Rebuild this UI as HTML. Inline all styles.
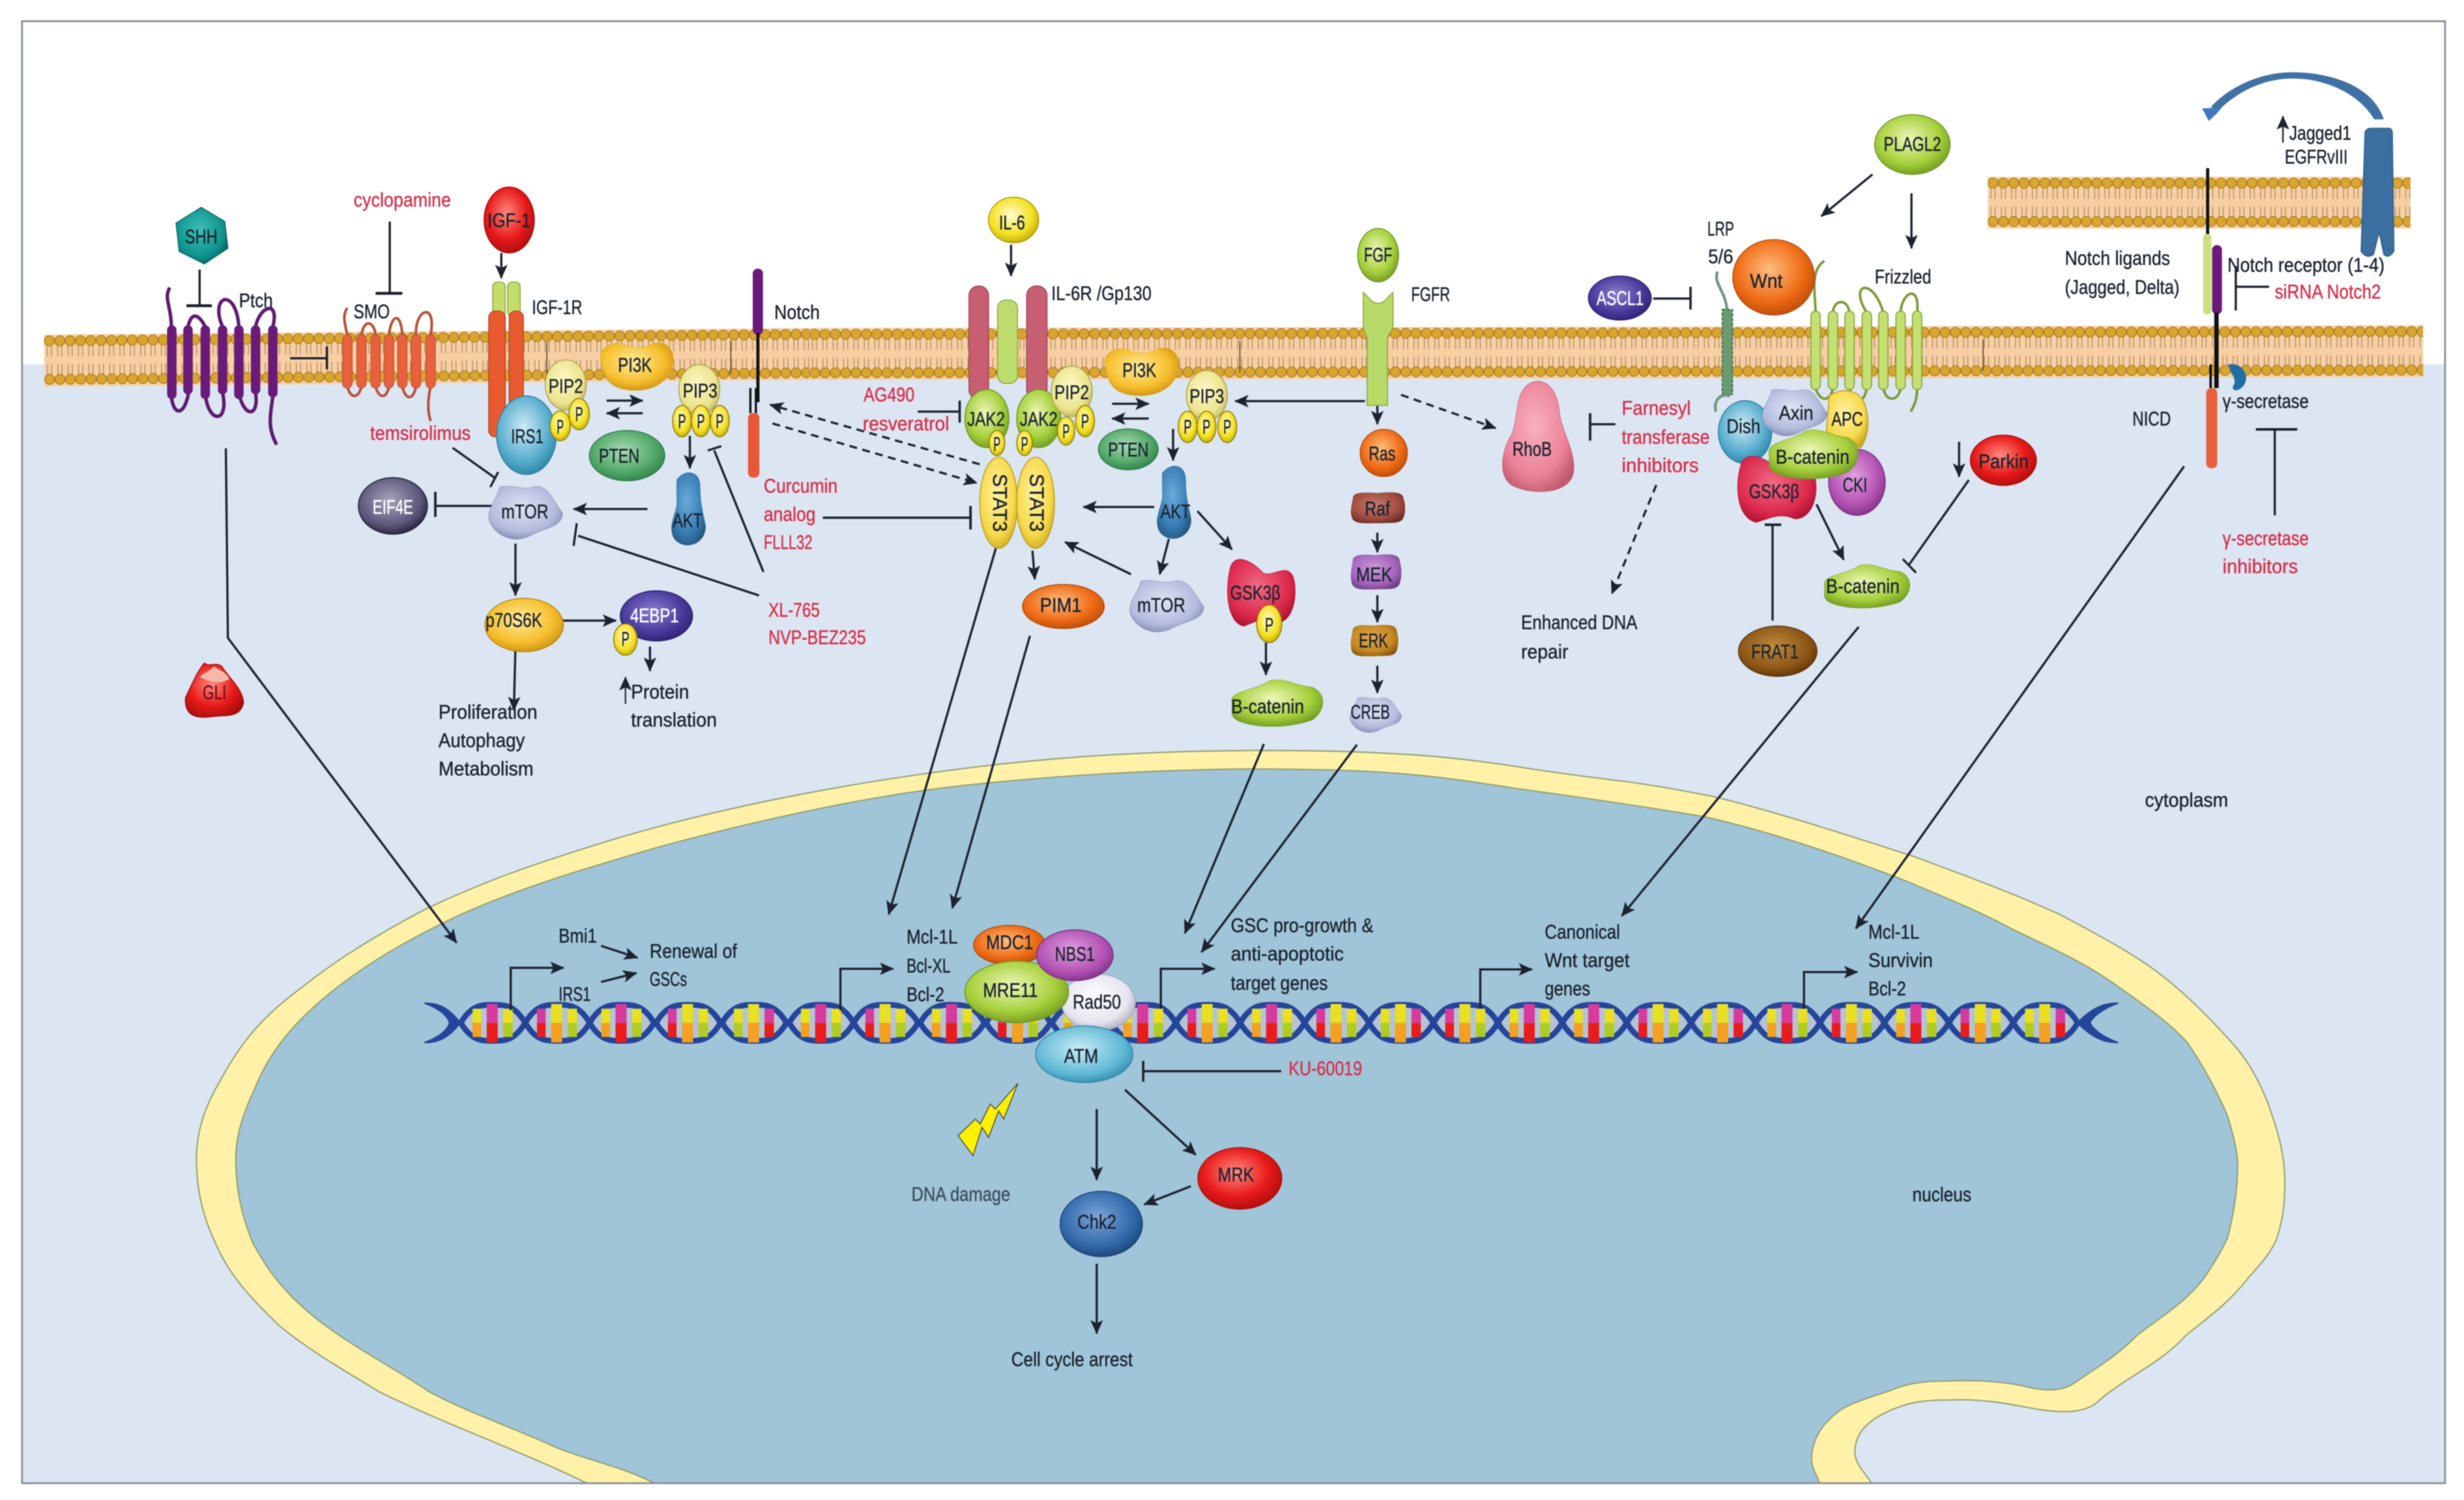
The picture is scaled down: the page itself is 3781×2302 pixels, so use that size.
<!DOCTYPE html>
<html><head><meta charset="utf-8"><style>
html,body{margin:0;padding:0;background:#fff}
svg{display:block;filter:blur(.9px)}
text{font-family:"Liberation Sans Narrow","Liberation Sans",sans-serif;font-size:12.5px;fill:#1b2330;stroke:#1b2330;stroke-width:.18}
.r{fill:#d6304a;stroke:#d6304a}
.w{fill:#fff;stroke:#fff}
.l line,.l path,.l polyline{stroke:#1c2230;stroke-width:1.4;fill:none}
.d line{stroke:#1c2230;stroke-width:1.4;stroke-dasharray:5 3.5;fill:none}
.n ellipse,.n use,.n path,.n rect{stroke-width:.6}
.c{text-anchor:middle}
</style></head><body>
<svg xmlns="http://www.w3.org/2000/svg" width="3781" height="2302" viewBox="0 0 1568 954.7">
<defs>
<marker id="a" markerUnits="userSpaceOnUse" markerWidth="10" markerHeight="9" refX="8.5" refY="4" orient="auto"><path d="M0,0 L9,4 L0,8 L2,4Z" fill="#1c2230"/></marker>
<radialGradient id="gRed" cx=".45" cy=".4" r=".65"><stop offset="0" stop-color="#ff8a80"/><stop offset=".6" stop-color="#e81a1a"/><stop offset="1" stop-color="#a80d0d"/></radialGradient>
<radialGradient id="gYel" cx=".45" cy=".4" r=".65"><stop offset="0" stop-color="#fffbd0"/><stop offset=".65" stop-color="#f3e01f"/><stop offset="1" stop-color="#b8a20c"/></radialGradient>
<radialGradient id="gGrn" cx=".45" cy=".4" r=".65"><stop offset="0" stop-color="#eef7b8"/><stop offset=".65" stop-color="#a5cf3a"/><stop offset="1" stop-color="#6d9420"/></radialGradient>
<radialGradient id="gOra" cx=".45" cy=".4" r=".65"><stop offset="0" stop-color="#ffbe80"/><stop offset=".65" stop-color="#ee6a14"/><stop offset="1" stop-color="#b5490a"/></radialGradient>
<radialGradient id="gBlu" cx=".45" cy=".4" r=".65"><stop offset="0" stop-color="#cfeaf5"/><stop offset=".65" stop-color="#58aecf"/><stop offset="1" stop-color="#2a7fa0"/></radialGradient>
<radialGradient id="gGre" cx=".45" cy=".4" r=".65"><stop offset="0" stop-color="#a8dab4"/><stop offset=".65" stop-color="#52a868"/><stop offset="1" stop-color="#2e7d48"/></radialGradient>
<radialGradient id="gPur" cx=".45" cy=".4" r=".65"><stop offset="0" stop-color="#a8a4bc"/><stop offset=".7" stop-color="#5a5478"/><stop offset="1" stop-color="#1e1b30"/></radialGradient>
<radialGradient id="gInd" cx=".45" cy=".4" r=".65"><stop offset="0" stop-color="#8a7cd0"/><stop offset=".65" stop-color="#483a9a"/><stop offset="1" stop-color="#2a2070"/></radialGradient>
<radialGradient id="gSal" cx=".45" cy=".4" r=".65"><stop offset="0" stop-color="#ffeb9c"/><stop offset=".65" stop-color="#f6be2c"/><stop offset="1" stop-color="#c98d10"/></radialGradient>
<radialGradient id="gCre" cx=".45" cy=".4" r=".65"><stop offset="0" stop-color="#fdf8c8"/><stop offset=".7" stop-color="#ece48e"/><stop offset="1" stop-color="#bdb560"/></radialGradient>
<radialGradient id="gLil" cx=".45" cy=".4" r=".65"><stop offset="0" stop-color="#dfe3f2"/><stop offset=".7" stop-color="#b3bbdc"/><stop offset="1" stop-color="#7f88ae"/></radialGradient>
<radialGradient id="gAkt" cx=".45" cy=".4" r=".65"><stop offset="0" stop-color="#6aaad8"/><stop offset=".65" stop-color="#3a7fb8"/><stop offset="1" stop-color="#24587f"/></radialGradient>
<radialGradient id="gPnk" cx=".45" cy=".4" r=".65"><stop offset="0" stop-color="#f8b0c0"/><stop offset=".7" stop-color="#ec8298"/><stop offset="1" stop-color="#c05a70"/></radialGradient>
<radialGradient id="gGsk" cx=".45" cy=".4" r=".65"><stop offset="0" stop-color="#f06a84"/><stop offset=".7" stop-color="#dc2a4c"/><stop offset="1" stop-color="#a81030"/></radialGradient>
<radialGradient id="gBrn" cx=".45" cy=".4" r=".65"><stop offset="0" stop-color="#c08a40"/><stop offset=".7" stop-color="#8a5414"/><stop offset="1" stop-color="#5a3208"/></radialGradient>
<radialGradient id="gMag" cx=".45" cy=".4" r=".65"><stop offset="0" stop-color="#e0a0e0"/><stop offset=".7" stop-color="#b04fb0"/><stop offset="1" stop-color="#7a2f80"/></radialGradient>
<radialGradient id="gRaf" cx=".45" cy=".4" r=".65"><stop offset="0" stop-color="#c07a6e"/><stop offset=".7" stop-color="#a04a3d"/><stop offset="1" stop-color="#6a2f28"/></radialGradient>
<radialGradient id="gMek" cx=".45" cy=".4" r=".65"><stop offset="0" stop-color="#c99bd8"/><stop offset=".7" stop-color="#a464bc"/><stop offset="1" stop-color="#70408a"/></radialGradient>
<radialGradient id="gErk" cx=".45" cy=".4" r=".65"><stop offset="0" stop-color="#e2a850"/><stop offset=".7" stop-color="#c4861e"/><stop offset="1" stop-color="#8a5c12"/></radialGradient>
<radialGradient id="gTeal" cx=".45" cy=".4" r=".65"><stop offset="0" stop-color="#3ec0b8"/><stop offset=".7" stop-color="#0e948e"/><stop offset="1" stop-color="#08605c"/></radialGradient>
<radialGradient id="gChk" cx=".45" cy=".4" r=".65"><stop offset="0" stop-color="#7aa4d8"/><stop offset=".7" stop-color="#2f66a8"/><stop offset="1" stop-color="#1a3f70"/></radialGradient>
<radialGradient id="gAtm" cx=".45" cy=".4" r=".65"><stop offset="0" stop-color="#c8ecf6"/><stop offset=".7" stop-color="#5fb8d4"/><stop offset="1" stop-color="#2f87a8"/></radialGradient>
<radialGradient id="gRad" cx=".45" cy=".4" r=".65"><stop offset="0" stop-color="#ffffff"/><stop offset=".7" stop-color="#e6e4ee"/><stop offset="1" stop-color="#a8a6b8"/></radialGradient>
<radialGradient id="gSt3" cx=".45" cy=".4" r=".65"><stop offset="0" stop-color="#fff2a0"/><stop offset=".7" stop-color="#f7d94a"/><stop offset="1" stop-color="#c9a820"/></radialGradient>

<pattern id="mem" patternUnits="userSpaceOnUse" width="6.6" height="33">
<rect width="6.6" height="33" fill="#f8cfa2"/>
<path d="M2,7 V14 M4.6,7 V14 M2,19 V26 M4.6,19 V26" stroke="#a88a68" stroke-width=".55" fill="none"/>
<circle cx="3.3" cy="4" r="3.2" fill="#d9a52e" stroke="#a0761a" stroke-width=".5"/>
<circle cx="3.3" cy="28.5" r="3.2" fill="#d9a52e" stroke="#a0761a" stroke-width=".5"/>
</pattern>

<path id="b1" d="M5,40 C0,15 20,0 35,8 C50,18 60,15 75,5 C95,0 105,30 95,60 C85,95 50,105 25,90 C10,80 8,60 5,40Z"/>
<path id="b2" d="M15,5 C35,0 45,12 60,5 C80,0 85,25 100,50 C100,75 75,75 55,90 C30,105 5,85 0,60 C0,35 10,30 15,5Z"/>
<path id="b3" d="M5,50 C2,25 25,28 45,5 C60,-3 70,15 90,18 C105,30 105,65 90,85 C60,105 25,100 10,85 C2,75 6,65 5,50Z"/>
<path id="b4" d="M20,10 C40,-5 85,-5 85,20 C85,45 95,60 100,75 C100,105 30,110 10,90 C-5,70 25,55 20,35Z"/>
<path id="b5" d="M5,15 C15,-5 40,10 55,25 C70,30 90,10 100,30 C108,55 100,95 75,95 C55,85 40,95 25,100 C0,95 -5,50 5,15Z"/>
<path id="b6" d="M35,5 C50,-5 75,0 80,25 C82,45 100,60 100,80 C100,105 40,105 15,95 C-5,85 5,60 15,50 C25,35 20,15 35,5Z"/>
<path id="b7" d="M6,20 C6,2 30,4 50,6 C75,2 96,2 96,22 C100,40 100,65 96,80 C92,100 70,94 50,96 C30,96 8,100 4,80 C0,60 4,40 6,20Z"/>

<g id="s"><path d="M-20.5,0 C-14,-11 -8,-11.5 0,-11.5 C8,-11.5 14,-11 20.5,0 C14,11 8,11.5 0,11.5 C-8,11.5 -14,11 -20.5,0Z" fill="#b4c4d4" stroke="#24459a" stroke-width="3.6"/></g>
<g id="u1"><use href="#s"/><rect x="-13" y="-9" width="5.5" height="9" fill="#e8e020"/><rect x="-13" y="0" width="5.5" height="9" fill="#f4a020"/><rect x="-4" y="-12" width="7" height="12" fill="#d83a9c"/><rect x="-4" y="0" width="7" height="12.5" fill="#e81c1c"/><rect x="6.5" y="-9" width="6" height="9" fill="#e8e020"/><rect x="6.5" y="0" width="6" height="9" fill="#b0cc20"/></g>
<g id="u2"><use href="#s"/><rect x="-13" y="-9" width="5.5" height="9" fill="#d83a9c"/><rect x="-13" y="0" width="5.5" height="9" fill="#e81c1c"/><rect x="-4" y="-12" width="7" height="12" fill="#e8e020"/><rect x="-4" y="0" width="7" height="12.5" fill="#f4a020"/><rect x="6.5" y="-9" width="6" height="9" fill="#e8e020"/><rect x="6.5" y="0" width="6" height="9" fill="#b0cc20"/></g>
<g id="u3"><use href="#s"/><rect x="-13" y="-9" width="5.5" height="9" fill="#e8e020"/><rect x="-13" y="0" width="5.5" height="9" fill="#b0cc20"/><rect x="-4" y="-12" width="7" height="12" fill="#e8e020"/><rect x="-4" y="0" width="7" height="12.5" fill="#f4a020"/><rect x="6.5" y="-9" width="6" height="9" fill="#d83a9c"/><rect x="6.5" y="0" width="6" height="9" fill="#e81c1c"/></g>
</defs>

<rect width="1568" height="955" fill="#fff"/>
<rect x="14" y="232" width="1542" height="712" fill="#dce6f2"/>

<!-- membranes -->
<g transform="translate(28,213) rotate(-.5)"><rect width="490" height="33" fill="url(#mem)"/></g>
<g transform="translate(515,208.8) rotate(-.1)"><rect width="1027" height="33" fill="url(#mem)"/></g>
<g transform="translate(1265,112.5)"><rect width="269" height="33" fill="url(#mem)"/></g>
<path d="M348,218V240 M465,217V238 M789,217V237 M1262,216V236" stroke="#5a4a30" stroke-width=".7"/>

<!-- nucleus -->
<path fill="#fff2a8" stroke="#8f9a6e" stroke-width=".8" d="M373.4,944 C335,925 280,905 241.7,886 C215,870 195,858 178,844 C158,825 145,810 137,791 C128,772 125,755 125,738 C125,720 130,705 140,688 C155,660 170,645 190,630 C215,610 240,595 270,579 C310,560 340,550 375,539 C450,515 540,498 622,488 C680,481 740,478 794,477.7 C830,477.5 860,478 886.5,479.7 C915,481 940,484 966,488 C990,492 1015,495 1036.7,497.7 C1060,501 1075,504 1090.6,507 C1135,518 1180,533 1217.6,545 C1250,557 1285,570 1312.8,583 C1335,595 1358,607 1376,621 C1395,636 1410,652 1424,667.8 C1434,680 1441,695 1446,710 C1451,725 1454,738 1454,752 C1454,770 1452,778 1449,788 C1445,798 1438,805 1431,813 C1418,830 1403,840 1391,850 C1375,868 1350,878 1334,893 C1325,900 1310,899 1297,897 C1285,895 1265,890 1241,891 C1228,891 1218,892 1210,895 C1195,900 1183,908 1181,919 C1178,930 1186,936 1191,944Z"/>
<path fill="#a0c5d9" stroke="#8f9a6e" stroke-width=".8" d="M416.3,944 C395,933 375,930 352.8,920.8 C325,908 300,900 273.4,886 C250,870 225,858 200.4,838.6 C180,822 170,808 160.8,791 C153,772 150,755 150,738 C150,722 155,708 162,693 C172,668 188,650 210,632 C235,612 260,598 289,584 C330,565 375,552 419.5,539 C490,520 560,505 622,499 C680,493 740,490 794,489.4 C830,489.4 860,490 886.5,492 C915,494 940,498 966,502 C1010,508 1050,514 1084,519.7 C1130,530 1175,546 1211,560 C1235,570 1260,580 1281,591.6 C1305,603 1325,612 1344.5,625.5 C1362,638 1380,650 1392,663.6 C1402,678 1411,695 1417.5,710 C1421,722 1424,732 1424,742 C1424,758 1421,775 1417.5,788 C1413,798 1408,805 1403,813 C1390,830 1375,838 1360,850 C1345,865 1330,873 1319,881 C1310,886 1300,885 1291,883 C1280,880 1260,878 1241,879 C1225,879 1215,880 1203,885 C1188,890 1178,893 1172,897 C1162,904 1155,912 1153,925 C1152,934 1156,938 1158,944Z"/>
<rect x="14" y="13.5" width="1542" height="930.5" fill="none" stroke="#8a929c" stroke-width="1.2"/>

<!-- DNA -->
<g transform="translate(0,651)">
<path d="M270,-12.5 C282,-13 288,-6 293,0 C288,6 282,13 270,12.5 C280,9 285,4 286,0 C285,-4 280,-9 270,-12.5Z" fill="#24459a" stroke="#24459a" stroke-width=".8"/>
<use href="#u1" x="313.7"/><use href="#u2" x="354.7"/><use href="#u1" x="395.7"/><use href="#u2" x="438"/><use href="#u3" x="480"/><use href="#u1" x="522.7"/><use href="#u2" x="563.7"/><use href="#u1" x="606"/><use href="#u2" x="648"/><use href="#u1" x="690"/><use href="#u1" x="727.7"/><use href="#u2" x="768.7"/><use href="#u1" x="809.7"/><use href="#u2" x="850.7"/><use href="#u3" x="891.7"/><use href="#u2" x="932.7"/><use href="#u1" x="973.7"/><use href="#u1" x="1014.7"/><use href="#u2" x="1055.7"/><use href="#u3" x="1096.7"/><use href="#u1" x="1137.7"/><use href="#u2" x="1178.7"/><use href="#u1" x="1219.7"/><use href="#u2" x="1260.7"/><use href="#u3" x="1301.7"/>
<path d="M1348,-12.5 C1336,-13 1328,-6 1322,0 C1328,6 1336,13 1348,12.5 C1338,9 1332,4 1330,0 C1332,-4 1338,-9 1348,-12.5Z" fill="#24459a" stroke="#24459a" stroke-width=".8"/>
</g>

<!-- Ptch -->
<g fill="none" stroke="#5f1a6e" stroke-width="2.2">
<path d="M109,208 C109,195 104,190 108,183"/>
<path d="M109,252 C110,264 117,266 120,250"/>
<path d="M119.6,208 C122,197 127,201 130.6,208"/>
<path d="M130.6,250 C132,270 146,270 141.6,250"/>
<path d="M141.6,208 C133,188 150,182 152,208"/>
<path d="M152,250 C155,266 165,266 162.6,250"/>
<path d="M162.6,208 C165,195 178,190 173.6,208"/>
<path d="M173.6,252 C172,265 170,272 176,283"/>
</g>
<g fill="#6a1b7a"><rect x="106.3" y="207" width="6" height="47" rx="3"/><rect x="116.6" y="207" width="6" height="44" rx="3"/><rect x="127.6" y="207" width="6" height="47" rx="3"/><rect x="138.6" y="207" width="6" height="44" rx="3"/><rect x="149" y="207" width="6" height="47" rx="3"/><rect x="159.6" y="207" width="6" height="44" rx="3"/><rect x="170.6" y="207" width="6" height="46" rx="3"/></g>

<!-- SMO -->
<g fill="none" stroke="#b8513a" stroke-width="1.7">
<path d="M221,213 C219,205 218,200 221,196"/>
<path d="M221,246 C223,254 228,254 230,246"/>
<path d="M230,213 C232,202 238,205 239,213"/>
<path d="M239,246 C241,254 246,254 247.5,246"/>
<path d="M247.5,213 C249,200 255,198 256,213"/>
<path d="M256,246 C258,255 263,255 264.7,246"/>
<path d="M264.7,213 C264,196 278,192 274,213"/>
<path d="M274,246 C272,255 272,262 274,268"/>
</g>
<g fill="#e8603c" stroke="#b8513a" stroke-width=".5"><rect x="218" y="213" width="6" height="34" rx="3"/><rect x="227" y="213" width="6" height="34" rx="3"/><rect x="236" y="213" width="6" height="34" rx="3"/><rect x="244.5" y="213" width="6" height="34" rx="3"/><rect x="253" y="213" width="6" height="34" rx="3"/><rect x="261.7" y="213" width="6" height="34" rx="3"/><rect x="271" y="213" width="6" height="34" rx="3"/></g>

<!-- Frizzled -->
<g fill="none" stroke="#7a9a3a" stroke-width="1.6">
<path d="M1155.4,199 C1155,185 1152,172 1161,166"/>
<path d="M1155.4,247 C1158,256 1165,256 1166.4,247"/>
<path d="M1166.4,199 C1167,190 1176,190 1177,199"/>
<path d="M1177,247 C1179,258 1186,258 1188,247"/>
<path d="M1188,199 C1176,180 1192,176 1198.5,199"/>
<path d="M1198.5,247 C1200,256 1208,256 1209.5,247"/>
<path d="M1209.5,199 C1210,186 1222,180 1220,199"/>
<path d="M1220,247 C1220,255 1218,258 1216,262"/>
</g>
<g fill="#c5e070" stroke="#7a9a3a" stroke-width=".6"><rect x="1152.4" y="198" width="6" height="50" rx="3"/><rect x="1163.4" y="198" width="6" height="50" rx="3"/><rect x="1174" y="198" width="6" height="50" rx="3"/><rect x="1185" y="198" width="6" height="50" rx="3"/><rect x="1195.5" y="198" width="6" height="50" rx="3"/><rect x="1206.5" y="198" width="6" height="50" rx="3"/><rect x="1217" y="198" width="6" height="50" rx="3"/></g>

<!-- LRP -->
<path d="M1093,173 C1090,180 1098,185 1099,197" fill="none" stroke="#6a9a80" stroke-width="1.8"/>
<rect x="1096" y="197" width="6.5" height="54" fill="#6a9a70" stroke="#3f6a50" stroke-width=".8" stroke-dasharray="2 1"/>
<path d="M1101,252 C1095,250 1090,255 1092,262" fill="none" stroke="#6a9a80" stroke-width="1.8"/>

<!-- receptors -->
<g class="n">
<rect x="313.5" y="179.5" width="8" height="22" rx="3" fill="#c4dc6a" stroke="#8aa040"/>
<rect x="323" y="179.5" width="8" height="22" rx="3" fill="#c4dc6a" stroke="#8aa040"/>
<rect x="311" y="198" width="10.5" height="80" rx="4" fill="#ea5a30" stroke="#b0401c"/>
<rect x="324" y="198" width="9" height="80" rx="4" fill="#ea5a30" stroke="#b0401c"/>
<rect x="616.6" y="182" width="12.5" height="72" rx="6" fill="#c75e72" stroke="#9a4556"/>
<rect x="653.3" y="182" width="13" height="72" rx="6" fill="#c75e72" stroke="#9a4556"/>
<rect x="634.8" y="191" width="12.7" height="53" rx="5" fill="#bedc6e" stroke="#8aa040"/>
<path d="M867.5,186 C872,190 873,193 877,193 C881,193 882,190 886.5,186 V206 C886.5,212 883,212 883,216 V258 H870 V216 C870,212 867.5,212 867.5,206Z" fill="#b6d968" stroke="#8aa040"/>
</g>

<!-- left notch -->
<rect x="479" y="171" width="6.5" height="42" rx="3" fill="#6a1b7a"/>
<path d="M482.3,212V256" stroke="#111" stroke-width="2"/>
<path d="M477.5,247V263 M481,247V263" stroke="#111" stroke-width="1.4"/>
<rect x="476" y="263" width="7.2" height="41" rx="3" fill="#e8563a"/>

<!-- right notch -->
<path d="M1404.9,107V149" stroke="#111" stroke-width="2"/>
<rect x="1402" y="149" width="5.2" height="51" rx="2" fill="#c9e07c"/>
<rect x="1407.7" y="156" width="6.3" height="44" rx="3" fill="#6a1b7a"/>
<path d="M1410.5,199V247" stroke="#111" stroke-width="2.8"/>
<path d="M1406.8,232V247" stroke="#111" stroke-width="1.6"/>
<rect x="1404" y="247" width="7" height="51" rx="3" fill="#e8603c"/>
<path d="M1418,232 C1425,230 1431,237 1429,243 C1427,249 1420,250 1421,246 C1424,242 1420,238 1418,232Z" fill="#1f6ea8"/>

<!-- EGFR -->
<path d="M1505,84 Q1506,81.6 1509,81.6 H1520 Q1522.5,81.6 1522.5,85 L1523.5,160 Q1520,165 1517,162 L1514,148 L1510.5,162 Q1506,165 1502.5,160Z" fill="#3a6f9f" stroke="#2a5580" stroke-width=".5"/>
<path d="M1517,76 C1510,54 1482,46 1459,46 C1440,46 1420,54 1407,68 L1411,71 C1425,57 1442,50 1459,50 C1478,50 1500,58 1511,76Z" fill="#3f71a5"/>
<path d="M1401.4,69 L1414,68.5 L1410,73 L1405.6,77Z" fill="#3f78c0"/>

<!-- connectors -->
<g class="l">
<line x1="127" y1="171.6" x2="127" y2="194.6"/><line x1="118.6" y1="194.6" x2="134.8" y2="194.6" style="stroke-width:1.8"/>
<line x1="248" y1="141" x2="248" y2="186.7"/><line x1="239" y1="186.7" x2="256" y2="186.7" style="stroke-width:1.8"/>
<line x1="184.6" y1="228" x2="208" y2="228"/><line x1="208" y1="220.5" x2="208" y2="235" style="stroke-width:1.5"/>
<line x1="319" y1="161" x2="319" y2="177" marker-end="url(#a)"/>
<polyline points="143.7,285.3 145,406 290.5,600" marker-end="url(#a)"/>
<line x1="386" y1="255" x2="409" y2="255" marker-end="url(#a)"/>
<line x1="409" y1="263" x2="386" y2="263" marker-end="url(#a)"/>
<line x1="439" y1="277.4" x2="439" y2="298" marker-end="url(#a)"/>
<line x1="412" y1="324" x2="365" y2="324" marker-end="url(#a)"/>
<line x1="315" y1="322" x2="277" y2="322"/><line x1="277" y1="313" x2="277" y2="329" style="stroke-width:1.6"/>
<line x1="288" y1="285" x2="315.6" y2="304.6"/><line x1="312" y1="310" x2="317" y2="300.4"/>
<line x1="485.8" y1="364" x2="454.5" y2="286.7"/><line x1="450.4" y1="286.7" x2="459" y2="284"/>
<line x1="483" y1="379" x2="367.9" y2="341"/><line x1="365" y1="347.5" x2="367" y2="333"/>
<line x1="328" y1="346" x2="328" y2="379" marker-end="url(#a)"/>
<line x1="358" y1="395" x2="392" y2="395" marker-end="url(#a)"/>
<line x1="413.6" y1="411.5" x2="413.6" y2="427" marker-end="url(#a)"/>
<line x1="398" y1="448" x2="398" y2="431" marker-end="url(#a)" style="stroke-width:.9"/>
<line x1="328" y1="411" x2="327" y2="452" marker-end="url(#a)"/>
<line x1="523.6" y1="329.5" x2="617.6" y2="329.5"/><line x1="617.6" y1="322" x2="617.6" y2="337" style="stroke-width:1.6"/>
<line x1="643.4" y1="155.8" x2="643.4" y2="175.6" marker-end="url(#a)"/>
<line x1="584" y1="262" x2="610.7" y2="262"/><line x1="610.7" y1="255" x2="610.7" y2="269" style="stroke-width:1.5"/>
<line x1="707.7" y1="257" x2="731" y2="257" marker-end="url(#a)"/>
<line x1="731" y1="266.4" x2="707.7" y2="266.4" marker-end="url(#a)"/>
<line x1="868.6" y1="255.3" x2="786" y2="255.3" marker-end="url(#a)"/>
<line x1="746.5" y1="273" x2="746.5" y2="293" marker-end="url(#a)"/>
<line x1="734.5" y1="322.7" x2="689.4" y2="322.7" marker-end="url(#a)"/>
<line x1="719.7" y1="365.5" x2="677.7" y2="345" marker-end="url(#a)"/>
<line x1="743.8" y1="343" x2="738" y2="365.5" marker-end="url(#a)"/>
<line x1="762" y1="325.3" x2="784" y2="349.7" marker-end="url(#a)"/>
<line x1="657" y1="350.5" x2="658.5" y2="368.7" marker-end="url(#a)"/>
<line x1="805.6" y1="409" x2="805.6" y2="429.5" marker-end="url(#a)"/>
<line x1="633.7" y1="349" x2="565.5" y2="582" marker-end="url(#a)"/>
<line x1="655.4" y1="404.7" x2="606" y2="578" marker-end="url(#a)"/>
<line x1="804.3" y1="473.5" x2="754" y2="594" marker-end="url(#a)"/>
<line x1="863.5" y1="474" x2="764.6" y2="606" marker-end="url(#a)"/>
<line x1="876.5" y1="258.4" x2="876.5" y2="270" marker-end="url(#a)"/>
<line x1="876.5" y1="339" x2="876.5" y2="351.5" marker-end="url(#a)"/>
<line x1="876.5" y1="378.8" x2="876.5" y2="396" marker-end="url(#a)"/>
<line x1="876.5" y1="423.7" x2="876.5" y2="441" marker-end="url(#a)"/>
<line x1="1028" y1="270" x2="1011.9" y2="270"/><line x1="1011.9" y1="263" x2="1011.9" y2="280.4" style="stroke-width:1.6"/>
<line x1="1052" y1="190" x2="1075.8" y2="190"/><line x1="1075.8" y1="182.5" x2="1075.8" y2="197" style="stroke-width:1.5"/>
<line x1="1191.6" y1="111" x2="1159" y2="137.6" marker-end="url(#a)"/>
<line x1="1216.4" y1="123" x2="1216.4" y2="158" marker-end="url(#a)"/>
<line x1="1128" y1="395" x2="1128" y2="334"/><line x1="1123" y1="334" x2="1133.5" y2="334" style="stroke-width:1.6"/>
<line x1="1156" y1="321" x2="1173.3" y2="356.3" marker-end="url(#a)"/>
<line x1="1246.7" y1="281.2" x2="1246.7" y2="303.4" marker-end="url(#a)"/>
<line x1="1252.9" y1="305.5" x2="1214.6" y2="359.8"/><line x1="1210.9" y1="355.8" x2="1219.3" y2="364.5"/>
<line x1="1182.8" y1="399" x2="1032" y2="583" marker-end="url(#a)"/>
<line x1="1389.9" y1="296.8" x2="1181" y2="591" marker-end="url(#a)"/>
<line x1="1447.6" y1="273.3" x2="1447.6" y2="328"/><line x1="1435.6" y1="273.3" x2="1461.9" y2="273.3" style="stroke-width:1.6"/>
<line x1="1444" y1="182.5" x2="1422.8" y2="182.5"/><line x1="1422.8" y1="169.3" x2="1422.8" y2="197.6"/>
<line x1="1452.8" y1="90.8" x2="1452.8" y2="74" marker-end="url(#a)" style="stroke-width:1"/>
<line x1="382.5" y1="602" x2="405.7" y2="609.6" marker-end="url(#a)"/>
<line x1="382.5" y1="625" x2="405" y2="619.3" marker-end="url(#a)"/>
<polyline points="325,643 325,616 358.7,616" marker-end="url(#a)"/>
<polyline points="534.8,643 534.8,616.6 568.4,616.6" marker-end="url(#a)"/>
<polyline points="738.7,642 738.7,616.6 773,616.6" marker-end="url(#a)"/>
<polyline points="942,642 942,617 975,617" marker-end="url(#a)"/>
<polyline points="1148,642 1148,618.7 1182,618.7" marker-end="url(#a)"/>
<line x1="815.3" y1="681.8" x2="727.5" y2="681.8"/><line x1="727.5" y1="675.2" x2="727.5" y2="688.4" style="stroke-width:1.5"/>
<line x1="697.9" y1="705.9" x2="697.9" y2="751" marker-end="url(#a)"/>
<line x1="715.9" y1="693.6" x2="761" y2="735" marker-end="url(#a)"/>
<line x1="757.8" y1="755" x2="728.2" y2="766.6" marker-end="url(#a)"/>
<line x1="697.9" y1="804.3" x2="697.9" y2="848.7" marker-end="url(#a)"/>
</g>
<g class="d">
<line x1="623.4" y1="295.5" x2="490" y2="257.6" marker-end="url(#a)"/>
<line x1="491.6" y1="269.5" x2="621.7" y2="307.4" marker-end="url(#a)"/>
<line x1="891.6" y1="251.3" x2="951.8" y2="272.5" marker-end="url(#a)"/>
<line x1="1054" y1="308.7" x2="1025.7" y2="378" marker-end="url(#a)"/>
</g>

<!-- nodes -->
<g class="n">
<path d="M128,132 L143,141 L145,158 L130,168 L114,160 L112,142Z" fill="url(#gTeal)" stroke="#08605c"/>
<ellipse cx="324" cy="140" rx="16" ry="21" fill="url(#gRed)" stroke="#a80d0d"/>
<ellipse cx="335" cy="277" rx="19" ry="25" fill="url(#gBlu)" stroke="#2a7fa0"/>
<ellipse cx="360" cy="245" rx="13" ry="16" fill="url(#gCre)" stroke="#a8a050"/>
<ellipse cx="356.5" cy="271" rx="6.5" ry="9.5" fill="url(#gYel)" stroke="#8a7a10"/>
<ellipse cx="368.5" cy="263.6" rx="6.5" ry="10" fill="url(#gYel)" stroke="#8a7a10"/>
<use href="#b1" transform="translate(380,216.6) scale(.49,.33)" fill="url(#gSal)" stroke="#c9a820"/>
<ellipse cx="445" cy="248" rx="13" ry="16" fill="url(#gCre)" stroke="#a8a050"/>
<ellipse cx="434" cy="268" rx="6" ry="10" fill="url(#gYel)" stroke="#8a7a10"/>
<ellipse cx="446" cy="268" rx="6" ry="10" fill="url(#gYel)" stroke="#8a7a10"/>
<ellipse cx="458" cy="268" rx="6" ry="10" fill="url(#gYel)" stroke="#8a7a10"/>
<ellipse cx="399" cy="290" rx="24" ry="16" fill="url(#gGre)" stroke="#2e7d48"/>
<use href="#b4" transform="translate(426,301) scale(.23,.45)" fill="url(#gAkt)" stroke="#24587f"/>
<use href="#b2" transform="translate(311,308) scale(.47,.37)" fill="url(#gLil)" stroke="#7f88ae"/>
<ellipse cx="250" cy="322" rx="22" ry="18" fill="url(#gPur)" stroke="#1e1b30"/>
<ellipse cx="333.5" cy="397.8" rx="25" ry="17" fill="url(#gSal)" stroke="#b88510"/>
<ellipse cx="417.7" cy="392" rx="23" ry="16" fill="url(#gInd)" stroke="#2a2070"/>
<ellipse cx="398" cy="407" rx="7.5" ry="10" fill="url(#gYel)" stroke="#8a7a10"/>
<path d="M118,444 C122,436 125,428 130,422 C134,425 136,421 141,424 C146,432 154,438 155,447 C153,457 144,455 136,456 C128,457 117,458 118,444Z" fill="url(#gRed)" stroke="#9a0d10"/>
<path d="M127,431 C131,427 134,427 136,424 C140,427 143,427 146,432 C140,436 134,434 127,431Z" fill="#f6b8a8"/>

<ellipse cx="645" cy="140" rx="16" ry="14.5" fill="url(#gYel)" stroke="#a8960c"/>
<ellipse cx="628" cy="266.4" rx="14" ry="18.5" fill="url(#gGrn)" stroke="#6d9420"/>
<ellipse cx="661" cy="266.4" rx="14" ry="18.5" fill="url(#gGrn)" stroke="#6d9420"/>
<ellipse cx="634.4" cy="282" rx="5" ry="8" fill="url(#gYel)" stroke="#8a7a10"/>
<ellipse cx="652" cy="282" rx="5" ry="8" fill="url(#gYel)" stroke="#8a7a10"/>
<ellipse cx="682" cy="249" rx="13" ry="16" fill="url(#gCre)" stroke="#a8a050"/>
<ellipse cx="678.4" cy="274.3" rx="5.5" ry="9" fill="url(#gYel)" stroke="#8a7a10"/>
<ellipse cx="690.5" cy="268" rx="6" ry="10" fill="url(#gYel)" stroke="#8a7a10"/>
<use href="#b1" transform="translate(700.8,220) scale(.5,.33)" fill="url(#gSal)" stroke="#c9a820"/>
<ellipse cx="768" cy="251.8" rx="13" ry="16" fill="url(#gCre)" stroke="#a8a050"/>
<ellipse cx="755.8" cy="271.7" rx="6" ry="10" fill="url(#gYel)" stroke="#8a7a10"/>
<ellipse cx="767.8" cy="271.7" rx="6" ry="10" fill="url(#gYel)" stroke="#8a7a10"/>
<ellipse cx="781" cy="271.7" rx="6" ry="10" fill="url(#gYel)" stroke="#8a7a10"/>
<ellipse cx="718" cy="286" rx="19" ry="13" fill="url(#gGre)" stroke="#2e7d48"/>
<use href="#b4" transform="translate(735,296.8) scale(.23,.45)" fill="url(#gAkt)" stroke="#24587f"/>
<ellipse cx="635.5" cy="320" rx="12" ry="29" fill="url(#gSt3)" stroke="#b89a20"/>
<ellipse cx="659" cy="320" rx="12" ry="29" fill="url(#gSt3)" stroke="#b89a20"/>
<ellipse cx="676.7" cy="386" rx="26" ry="14" fill="url(#gOra)" stroke="#b5490a"/>
<use href="#b2" transform="translate(719,368) scale(.47,.36)" fill="url(#gLil)" stroke="#7f88ae"/>
<use href="#b5" transform="translate(781,353.6) scale(.42,.45)" fill="url(#gGsk)" stroke="#a81030"/>
<ellipse cx="807.7" cy="397" rx="8" ry="12" fill="url(#gYel)" stroke="#8a7a10"/>
<use href="#b3" transform="translate(781,431.7) scale(.6,.313)" fill="url(#gGrn)" stroke="#6d9420"/>
<ellipse cx="877" cy="162.4" rx="13" ry="17" fill="url(#gGrn)" stroke="#6d9420"/>
<ellipse cx="880.6" cy="288.3" rx="15" ry="15" fill="url(#gOra)" stroke="#b5490a"/>
<use href="#b7" transform="translate(859,312.6) scale(.354,.212)" fill="url(#gRaf)" stroke="#6a2f28"/>
<use href="#b7" transform="translate(859,352) scale(.33,.24)" fill="url(#gMek)" stroke="#70408a"/>
<use href="#b7" transform="translate(859,397) scale(.31,.214)" fill="url(#gErk)" stroke="#8a5c12"/>
<use href="#b2" transform="translate(859,443) scale(.33,.244)" fill="url(#gLil)" stroke="#7f88ae"/>
<use href="#b6" transform="translate(954.5,242.6) scale(.471,.694)" fill="url(#gPnk)" stroke="#c05a70"/>
<ellipse cx="1030.8" cy="189.7" rx="20" ry="14" fill="url(#gInd)" stroke="#2a2070"/>

<ellipse cx="1217" cy="92" rx="24" ry="19" fill="url(#gGrn)" stroke="#6d9420"/>
<ellipse cx="1128.7" cy="176.5" rx="26" ry="24" fill="url(#gOra)" stroke="#b5490a"/>
<ellipse cx="1110.5" cy="275" rx="17" ry="20" fill="url(#gBlu)" stroke="#2a7fa0"/>
<use href="#b2" transform="translate(1121.4,246.6) scale(.413,.324)" fill="url(#gLil)" stroke="#7f88ae"/>
<path d="M1164,252 C1172,246 1184,248 1187,258 C1190,268 1189,278 1184,285 L1162,278Z" fill="url(#gSt3)" stroke="#b89a20"/>
<ellipse cx="1181.7" cy="307" rx="18" ry="21" fill="url(#gMag)" stroke="#7a2f80"/>
<use href="#b5" transform="translate(1105.7,288) scale(.486,.445)" fill="url(#gGsk)" stroke="#a81030"/>
<use href="#b3" transform="translate(1123,272.5) scale(.587,.33)" fill="url(#gGrn)" stroke="#6d9420"/>
<use href="#b3" transform="translate(1158.3,358.4) scale(.563,.292)" fill="url(#gGrn)" stroke="#6d9420"/>
<ellipse cx="1131.3" cy="414.5" rx="25" ry="16" fill="url(#gBrn)" stroke="#5a3208"/>
<ellipse cx="1274.9" cy="293" rx="21" ry="16" fill="url(#gRed)" stroke="#a80d0d"/>

<ellipse cx="642.5" cy="601.5" rx="23" ry="12.5" fill="url(#gOra)" stroke="#b5490a"/>
<ellipse cx="699" cy="638" rx="23.5" ry="18" fill="url(#gRad)" stroke="#a8a6b8"/>
<ellipse cx="647" cy="631.3" rx="33" ry="19.6" fill="url(#gGrn)" stroke="#6d9420"/>
<ellipse cx="684" cy="608" rx="24.4" ry="16.2" fill="url(#gMag)" stroke="#7a2f80"/>
<ellipse cx="690" cy="671" rx="31" ry="18" fill="url(#gAtm)" stroke="#2f87a8"/>
<ellipse cx="789" cy="750" rx="26.7" ry="19.6" fill="url(#gRed)" stroke="#a80d0d"/>
<ellipse cx="700.8" cy="779" rx="26.2" ry="20.8" fill="url(#gChk)" stroke="#1a3f70"/>
<path d="M647.8,689.4 L638.7,712.2 L635.5,707 L629.1,723.9 L624.9,717.5 L619.2,735.5 L609.7,722.8 L620.7,712.3 L623.8,715.4 L630.2,702.7 L633.4,705.9Z" fill="#fff000" stroke="#444" stroke-width=".6"/>
</g>

<!-- node text -->
<g class="c">
<text x="128" y="155" textLength="20.6" lengthAdjust="spacingAndGlyphs">SHH</text>
<text x="324" y="144.5" textLength="27.5" lengthAdjust="spacingAndGlyphs">IGF-1</text>
<text x="335.5" y="282" textLength="20.6" lengthAdjust="spacingAndGlyphs">IRS1</text>
<text x="360" y="250" textLength="22" lengthAdjust="spacingAndGlyphs">PIP2</text>
<text x="404" y="236.5" textLength="21.6" lengthAdjust="spacingAndGlyphs">PI3K</text>
<text x="445.5" y="253" textLength="22" lengthAdjust="spacingAndGlyphs">PIP3</text>
<text x="394" y="294.5" textLength="25.8" lengthAdjust="spacingAndGlyphs">PTEN</text>
<text x="437.5" y="335.5" textLength="19" lengthAdjust="spacingAndGlyphs">AKT</text>
<text x="334" y="330" textLength="30" lengthAdjust="spacingAndGlyphs">mTOR</text>
<text class="w" x="250" y="327" textLength="25.8" lengthAdjust="spacingAndGlyphs">EIF4E</text>
<text x="327" y="399" textLength="36" lengthAdjust="spacingAndGlyphs">p70S6K</text>
<text class="w" x="416.5" y="396" textLength="31" lengthAdjust="spacingAndGlyphs">4EBP1</text>
<text x="398" y="411" textLength="5" lengthAdjust="spacingAndGlyphs">P</text>
<text x="356.5" y="276" textLength="4.5" lengthAdjust="spacingAndGlyphs">P</text>
<text x="368.5" y="268" textLength="5" lengthAdjust="spacingAndGlyphs">P</text>
<text x="434" y="272.5" textLength="5" lengthAdjust="spacingAndGlyphs">P</text>
<text x="446" y="272.5" textLength="5" lengthAdjust="spacingAndGlyphs">P</text>
<text x="458" y="272.5" textLength="5" lengthAdjust="spacingAndGlyphs">P</text>
<text x="136.5" y="445" textLength="15" lengthAdjust="spacingAndGlyphs" style="fill:#6a1010;stroke:#6a1010">GLI</text>
<text x="644" y="146" textLength="16.5" lengthAdjust="spacingAndGlyphs">IL-6</text>
<text x="627.5" y="271" textLength="24" lengthAdjust="spacingAndGlyphs">JAK2</text>
<text x="661" y="271" textLength="24" lengthAdjust="spacingAndGlyphs">JAK2</text>
<text x="634.4" y="287" textLength="4.5" lengthAdjust="spacingAndGlyphs">P</text>
<text x="652" y="287" textLength="4.5" lengthAdjust="spacingAndGlyphs">P</text>
<text x="682" y="254" textLength="22" lengthAdjust="spacingAndGlyphs">PIP2</text>
<text x="678.4" y="279" textLength="4.5" lengthAdjust="spacingAndGlyphs">P</text>
<text x="690.5" y="272.5" textLength="5" lengthAdjust="spacingAndGlyphs">P</text>
<text x="725" y="240" textLength="21.6" lengthAdjust="spacingAndGlyphs">PI3K</text>
<text x="768" y="256.5" textLength="22" lengthAdjust="spacingAndGlyphs">PIP3</text>
<text x="755.8" y="276" textLength="5" lengthAdjust="spacingAndGlyphs">P</text>
<text x="767.8" y="276" textLength="5" lengthAdjust="spacingAndGlyphs">P</text>
<text x="781" y="276" textLength="5" lengthAdjust="spacingAndGlyphs">P</text>
<text x="718" y="290.5" textLength="25.8" lengthAdjust="spacingAndGlyphs">PTEN</text>
<text x="748" y="330" textLength="19" lengthAdjust="spacingAndGlyphs">AKT</text>
<text transform="rotate(90 632 320)" x="632" y="320" textLength="37" lengthAdjust="spacingAndGlyphs">STAT3</text>
<text transform="rotate(90 655.5 320)" x="655.5" y="320" textLength="37" lengthAdjust="spacingAndGlyphs">STAT3</text>
<text x="675" y="389.5" textLength="26.5" lengthAdjust="spacingAndGlyphs">PIM1</text>
<text x="739" y="389.5" textLength="30.6" lengthAdjust="spacingAndGlyphs">mTOR</text>
<text x="798.8" y="381.5" textLength="32" lengthAdjust="spacingAndGlyphs">GSK3β</text>
<text x="807.7" y="402" textLength="5.5" lengthAdjust="spacingAndGlyphs">P</text>
<text x="806.7" y="454" textLength="46.4" lengthAdjust="spacingAndGlyphs">B-catenin</text>
<text x="877" y="166.5" textLength="18" lengthAdjust="spacingAndGlyphs">FGF</text>
<text x="879.5" y="293" textLength="17" lengthAdjust="spacingAndGlyphs">Ras</text>
<text x="876.5" y="328" textLength="16" lengthAdjust="spacingAndGlyphs">Raf</text>
<text x="874.5" y="370" textLength="23" lengthAdjust="spacingAndGlyphs">MEK</text>
<text x="874" y="412" textLength="18.6" lengthAdjust="spacingAndGlyphs">ERK</text>
<text x="872" y="457.5" textLength="25" lengthAdjust="spacingAndGlyphs">CREB</text>
<text x="975" y="290" textLength="25" lengthAdjust="spacingAndGlyphs">RhoB</text>
<text class="w" x="1031" y="194" textLength="30" lengthAdjust="spacingAndGlyphs">ASCL1</text>
<text x="1217" y="96" textLength="36.5" lengthAdjust="spacingAndGlyphs">PLAGL2</text>
<text x="1124" y="183" textLength="20.8" lengthAdjust="spacingAndGlyphs">Wnt</text>
<text x="1109.5" y="275.5" textLength="21.5" lengthAdjust="spacingAndGlyphs">Dish</text>
<text x="1143" y="267" textLength="22" lengthAdjust="spacingAndGlyphs">Axin</text>
<text x="1175.5" y="271" textLength="20" lengthAdjust="spacingAndGlyphs">APC</text>
<text x="1153.5" y="295" textLength="47" lengthAdjust="spacingAndGlyphs">B-catenin</text>
<text x="1180.5" y="313" textLength="15.7" lengthAdjust="spacingAndGlyphs">CKI</text>
<text x="1129" y="317" textLength="32" lengthAdjust="spacingAndGlyphs">GSK3β</text>
<text x="1185.5" y="377.5" textLength="46.8" lengthAdjust="spacingAndGlyphs">B-catenin</text>
<text x="1129.5" y="419" textLength="30" lengthAdjust="spacingAndGlyphs">FRAT1</text>
<text x="1275" y="298" textLength="32" lengthAdjust="spacingAndGlyphs">Parkin</text>
<text x="642.5" y="604" textLength="30" lengthAdjust="spacingAndGlyphs">MDC1</text>
<text x="684" y="611.5" textLength="25.4" lengthAdjust="spacingAndGlyphs">NBS1</text>
<text x="643" y="634.5" textLength="35" lengthAdjust="spacingAndGlyphs">MRE11</text>
<text x="698" y="642" textLength="30.7" lengthAdjust="spacingAndGlyphs">Rad50</text>
<text x="688" y="676.5" textLength="21.8" lengthAdjust="spacingAndGlyphs">ATM</text>
<text x="698" y="782" textLength="24.8" lengthAdjust="spacingAndGlyphs">Chk2</text>
<text x="786.5" y="752" textLength="23" lengthAdjust="spacingAndGlyphs">MRK</text>
</g>

<!-- labels -->
<text x="152" y="195.5" textLength="21.6" lengthAdjust="spacingAndGlyphs">Ptch</text>
<text x="225" y="202.5" textLength="23" lengthAdjust="spacingAndGlyphs">SMO</text>
<text class="r" x="225" y="131.5" textLength="62" lengthAdjust="spacingAndGlyphs">cyclopamine</text>
<text x="338.5" y="200" textLength="32" lengthAdjust="spacingAndGlyphs">IGF-1R</text>
<text class="r" x="235.5" y="280" textLength="64" lengthAdjust="spacingAndGlyphs">temsirolimus</text>
<text x="492.7" y="203" textLength="29" lengthAdjust="spacingAndGlyphs">Notch</text>
<text class="r" x="486" y="313.5" textLength="47" lengthAdjust="spacingAndGlyphs">Curcumin</text>
<text class="r" x="486" y="331.5" textLength="33" lengthAdjust="spacingAndGlyphs">analog</text>
<text class="r" x="486" y="349.5" textLength="31" lengthAdjust="spacingAndGlyphs">FLLL32</text>
<text class="r" x="489" y="392.5" textLength="32.7" lengthAdjust="spacingAndGlyphs">XL-765</text>
<text class="r" x="489" y="410" textLength="62" lengthAdjust="spacingAndGlyphs">NVP-BEZ235</text>
<text x="401.5" y="444.5" textLength="37" lengthAdjust="spacingAndGlyphs">Protein</text>
<text x="401.5" y="462.5" textLength="54.7" lengthAdjust="spacingAndGlyphs">translation</text>
<text x="279" y="457.5" textLength="63" lengthAdjust="spacingAndGlyphs">Proliferation</text>
<text x="279" y="475.5" textLength="55" lengthAdjust="spacingAndGlyphs">Autophagy</text>
<text x="279" y="493.5" textLength="60.5" lengthAdjust="spacingAndGlyphs">Metabolism</text>
<text x="669" y="191" textLength="63.8" lengthAdjust="spacingAndGlyphs">IL-6R /Gp130</text>
<text class="r" x="549.5" y="255.5" textLength="32.5" lengthAdjust="spacingAndGlyphs">AG490</text>
<text class="r" x="549" y="274" textLength="55" lengthAdjust="spacingAndGlyphs">resveratrol</text>
<text x="898" y="191.7" textLength="24.8" lengthAdjust="spacingAndGlyphs">FGFR</text>
<text class="r" x="1032" y="264" textLength="44" lengthAdjust="spacingAndGlyphs">Farnesyl</text>
<text class="r" x="1032" y="282.5" textLength="56" lengthAdjust="spacingAndGlyphs">transferase</text>
<text class="r" x="1032" y="300.5" textLength="49" lengthAdjust="spacingAndGlyphs">inhibitors</text>
<text x="968" y="400.5" textLength="74" lengthAdjust="spacingAndGlyphs">Enhanced DNA</text>
<text x="968" y="419" textLength="30" lengthAdjust="spacingAndGlyphs">repair</text>
<text x="1086.5" y="150" textLength="17" lengthAdjust="spacingAndGlyphs">LRP</text>
<text x="1087" y="167.5" textLength="16" lengthAdjust="spacingAndGlyphs">5/6</text>
<text x="1193" y="180.5" textLength="36" lengthAdjust="spacingAndGlyphs">Frizzled</text>
<text x="1456.8" y="89" textLength="39.5" lengthAdjust="spacingAndGlyphs">Jagged1</text>
<text x="1454" y="104" textLength="40" lengthAdjust="spacingAndGlyphs">EGFRvIII</text>
<text x="1314" y="168.5" textLength="67" lengthAdjust="spacingAndGlyphs">Notch ligands</text>
<text x="1314" y="187" textLength="73" lengthAdjust="spacingAndGlyphs">(Jagged, Delta)</text>
<text x="1417.5" y="173" textLength="100" lengthAdjust="spacingAndGlyphs">Notch receptor (1-4)</text>
<text class="r" x="1447.6" y="190" textLength="67.6" lengthAdjust="spacingAndGlyphs">siRNA Notch2</text>
<text x="1414.4" y="259.7" textLength="54.8" lengthAdjust="spacingAndGlyphs">γ-secretase</text>
<text x="1357" y="270.8" textLength="24.5" lengthAdjust="spacingAndGlyphs">NICD</text>
<text class="r" x="1414.4" y="347" textLength="54.8" lengthAdjust="spacingAndGlyphs">γ-secretase</text>
<text class="r" x="1414.4" y="364.7" textLength="47.9" lengthAdjust="spacingAndGlyphs">inhibitors</text>
<text x="1365" y="513.5" textLength="53" lengthAdjust="spacingAndGlyphs">cytoplasm</text>
<text x="1217" y="764.5" textLength="37.5" lengthAdjust="spacingAndGlyphs">nucleus</text>
<text x="355.5" y="600" textLength="24.3" lengthAdjust="spacingAndGlyphs">Bmi1</text>
<text x="413.4" y="609.6" textLength="55.6" lengthAdjust="spacingAndGlyphs">Renewal of</text>
<text x="413.4" y="627.4" textLength="23.8" lengthAdjust="spacingAndGlyphs">GSCs</text>
<text x="355.5" y="637" textLength="20.4" lengthAdjust="spacingAndGlyphs">IRS1</text>
<text x="576.9" y="600.5" textLength="32.5" lengthAdjust="spacingAndGlyphs">Mcl-1L</text>
<text x="576.9" y="619" textLength="28" lengthAdjust="spacingAndGlyphs">Bcl-XL</text>
<text x="576.9" y="637.3" textLength="24" lengthAdjust="spacingAndGlyphs">Bcl-2</text>
<text x="783.2" y="593.3" textLength="90.8" lengthAdjust="spacingAndGlyphs">GSC pro-growth &amp;</text>
<text x="783.2" y="611.3" textLength="71.9" lengthAdjust="spacingAndGlyphs">anti-apoptotic</text>
<text x="783.2" y="629.9" textLength="61.8" lengthAdjust="spacingAndGlyphs">target genes</text>
<text x="983" y="597.5" textLength="48" lengthAdjust="spacingAndGlyphs">Canonical</text>
<text x="983" y="615.5" textLength="54" lengthAdjust="spacingAndGlyphs">Wnt target</text>
<text x="983" y="633.5" textLength="29" lengthAdjust="spacingAndGlyphs">genes</text>
<text x="1189" y="597.5" textLength="32.5" lengthAdjust="spacingAndGlyphs">Mcl-1L</text>
<text x="1189" y="615.5" textLength="41" lengthAdjust="spacingAndGlyphs">Survivin</text>
<text x="1189" y="633.5" textLength="24" lengthAdjust="spacingAndGlyphs">Bcl-2</text>
<text class="r" x="820" y="684.3" textLength="46.8" lengthAdjust="spacingAndGlyphs">KU-60019</text>
<text x="580" y="764.3" textLength="62.9" lengthAdjust="spacingAndGlyphs" style="fill:#3d4f5e;stroke:#3d4f5e">DNA damage</text>
<text x="643.5" y="869.4" textLength="77.3" lengthAdjust="spacingAndGlyphs">Cell cycle arrest</text>
</svg>
</body></html>
